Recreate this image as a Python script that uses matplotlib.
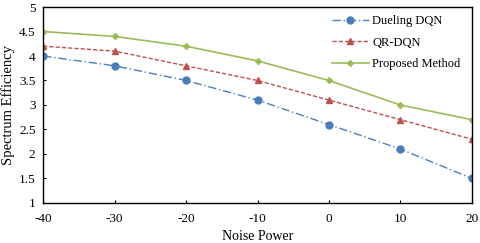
import numpy as np
import matplotlib
matplotlib.use('Agg')
import matplotlib.pyplot as plt

plt.rcParams['font.family'] = ['Liberation Serif', 'DejaVu Serif']
plt.rcParams['axes.unicode_minus'] = False

noise = [-40, -30, -20, -10, 0, 10, 20]
dueling = [4.0, 3.8, 3.5, 3.1, 2.6, 2.1, 1.5]
qrdqn = [4.2, 4.1, 3.8, 3.5, 3.1, 2.7, 2.3]
proposed = [4.5, 4.4, 4.2, 3.9, 3.5, 3.0, 2.7]

fig = plt.figure(figsize=(4.8, 2.43), dpi=100)
ax = fig.add_axes([0.09, 0.165, 0.893, 0.806])

ax.plot(noise, dueling, color='#4A7EBB', linestyle=(0, (6, 2, 1, 2)), lw=1,
        marker='o', ms=5, label='Dueling DQN')
ax.plot(noise, qrdqn, color='#C0504D', linestyle=(0, (3, 1.5)), lw=1,
        marker='^', ms=5, label='QR-DQN')
ax.plot(noise, proposed, color='#9BBB59', linestyle='-', lw=1.2,
        marker='D', ms=3, label='Proposed Method')

ax.set_xlim(-40, 20)
ax.set_ylim(1, 5)
ax.set_xticks(noise)
ax.set_yticks(np.arange(1, 5.01, 0.5))
ax.set_yticklabels(['1', '1.5', '2', '2.5', '3', '3.5', '4', '4.5', '5'])
ax.tick_params(labelsize=9.5, direction='in', length=2.5, width=0.8)
ax.tick_params(axis='x', pad=7)
ax.tick_params(axis='y', pad=5.5)
ax.set_xlabel('Noise Power', fontsize=10, labelpad=4)
ax.set_ylabel('Spectrum Efficiency', fontsize=10.5, labelpad=3)
for s in ax.spines.values():
    s.set_color('black')
    s.set_linewidth(1)

ax.legend(loc='upper right', frameon=False, fontsize=9, handlelength=2.9,
          handletextpad=0.3, labelspacing=0.75, bbox_to_anchor=(1.0, 1.015))

fig.savefig('out.png', dpi=100)
